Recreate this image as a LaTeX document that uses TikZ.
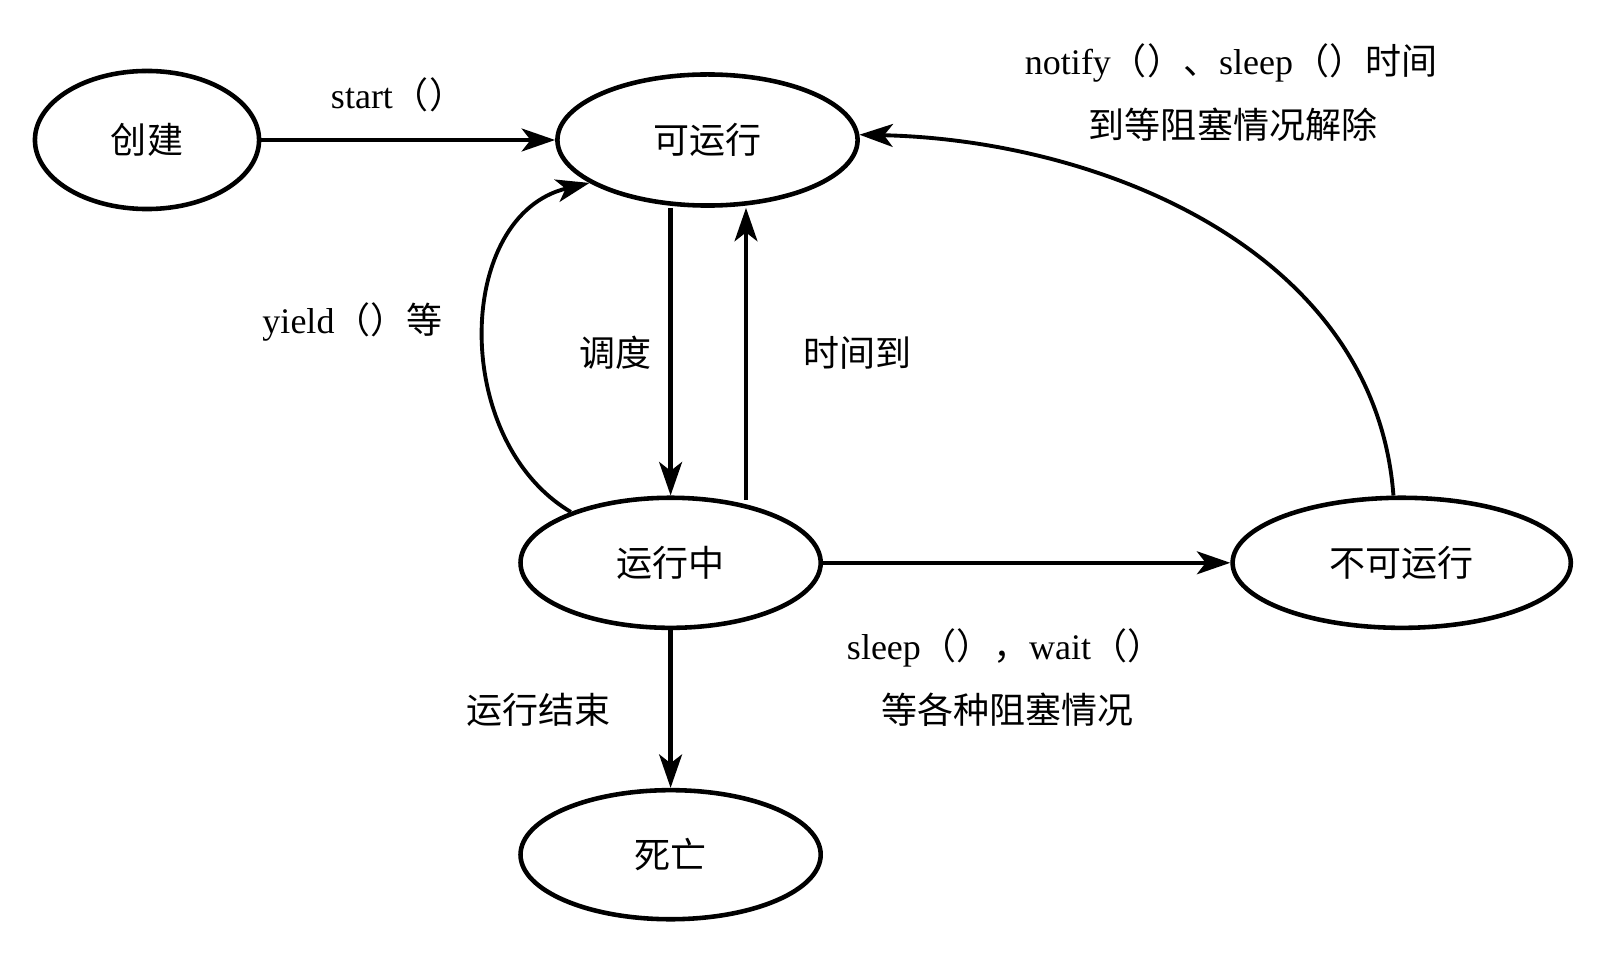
\documentclass[tikz,border=0pt]{standalone}
\usepackage{fontspec}
\setmainfont{Liberation Serif}
\newfontfamily\cjkfont{Noto Sans CJK SC}
\newcommand\zh[1]{{\cjkfont #1}}
\usetikzlibrary{shapes.geometric,arrows.meta}
\begin{document}
\begin{tikzpicture}[x=0.01cm,y=-0.01cm,
  state/.style={draw,ellipse,line width=1.3pt,inner sep=0pt,font=\fontsize{10.24pt}{12pt}\cjkfont},
  lbl/.style={inner sep=0pt,font=\fontsize{10.24pt}{12pt}\selectfont},
  arr/.style={line width=1.2pt,-{Stealth[length=9.5pt,width=6.5pt,inset=2.5pt]}},
  curv/.style={line width=1.1pt,-{Stealth[length=9.5pt,width=6.5pt,inset=2.5pt]}}]
\useasboundingbox (0,0) rectangle (1609,970);
\fill[white] (0,0) rectangle (1609,970);

\node[state,minimum width=2.24cm,minimum height=1.38cm] (create) at (147,140) {创建};
\node[state,minimum width=3.0cm,minimum height=1.31cm] (ready) at (707.5,140) {可运行};
\node[state,minimum width=3.0cm,minimum height=1.30cm] (run) at (670.6,562.8) {运行中};
\node[state,minimum width=3.38cm,minimum height=1.30cm] (blocked) at (1401.7,562.8) {不可运行};
\node[state,minimum width=3.0cm,minimum height=1.29cm] (dead) at (670.6,854.7) {死亡};

\draw[arr] (create.east) -- (ready.west);
\draw[arr] (ready.south -| run.north) -- (run.north);
\coordinate (upstart) at (746,500);
\draw[arr] (upstart) -- (upstart |- ready.south);
\draw[arr] (run.east) -- (blocked.west);
\draw[arr] (run.south) -- (dead.north);
\draw[curv] (run.153) .. controls (450,440) and (455,215) .. (ready.200);
\draw[curv] (blocked.97) .. controls (1375,250) and (1100,140) .. (ready.2);

\node[lbl] (lstart) at (398,94.4) {start\zh{（）}};
\node[lbl] (lyield) at (352.5,322.2) {yield\zh{（）等}};
\node[lbl] (lsched) at (615.6,353) {\zh{调度}};
\node[lbl] (ltime) at (857.8,353) {\zh{时间到}};
\node[lbl] (lnot1) at (1231,62.6) {notify\zh{（）、}sleep\zh{（）时间}};
\node[lbl] (lnot2) at (1233,125) {\zh{到等阻塞情况解除}};
\node[lbl] (lsl1) at (1005,647.5) {sleep\zh{（），}wait\zh{（）}};
\node[lbl] (lsl2) at (1007.6,710) {\zh{等各种阻塞情况}};
\node[lbl] (lend) at (538.7,710) {\zh{运行结束}};
\end{tikzpicture}
\end{document}
